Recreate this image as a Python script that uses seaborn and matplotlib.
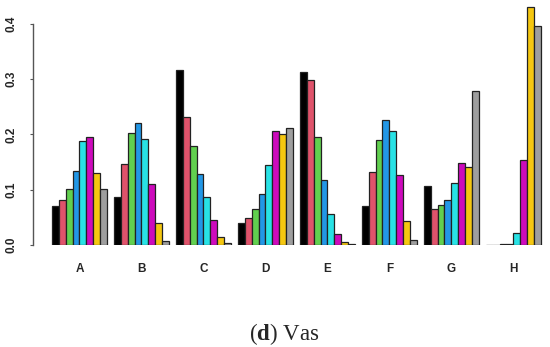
import matplotlib
matplotlib.use("Agg")
import matplotlib.pyplot as plt
import seaborn as sns
import pandas as pd

groups = ["A", "B", "C", "D", "E", "F", "G", "H"]
series_names = ["s1", "s2", "s3", "s4", "s5", "s6", "s7", "s8"]
s1 = [0.071, 0.087, 0.316, 0.039, 0.314, 0.071, 0.107, 0.000]
s2 = [0.081, 0.146, 0.232, 0.049, 0.299, 0.132, 0.065, 0.000]
s3 = [0.102, 0.202, 0.180, 0.065, 0.195, 0.190, 0.072, 0.001]
s4 = [0.134, 0.221, 0.129, 0.092, 0.118, 0.227, 0.081, 0.002]
s5 = [0.188, 0.192, 0.086, 0.145, 0.056, 0.206, 0.112, 0.022]
s6 = [0.196, 0.111, 0.045, 0.206, 0.019, 0.127, 0.148, 0.153]
s7 = [0.131, 0.039, 0.015, 0.200, 0.005, 0.044, 0.142, 0.431]
s8 = [0.101, 0.007, 0.003, 0.212, 0.001, 0.009, 0.279, 0.397]
colors = ["#000000", "#DF536B", "#61D04F", "#2297E6", "#28E2E5", "#CD0BBC", "#F5C710", "#9E9E9E"]
yticks = [0.0, 0.1, 0.2, 0.3, 0.4]

all_series = [s1, s2, s3, s4, s5, s6, s7, s8]
rows = []
for name, vals in zip(series_names, all_series):
    for g, v in zip(groups, vals):
        rows.append({"group": g, "series": name, "value": v})
df = pd.DataFrame(rows)

sns.set_style("white")
plt.rcParams["mathtext.fontset"] = "custom"
plt.rcParams["mathtext.rm"] = "Liberation Serif"
plt.rcParams["mathtext.bf"] = "Liberation Serif:bold"

fig = plt.figure(figsize=(5.5, 3.47), dpi=100)
ax = fig.add_axes([0.06, 0.294, 0.936, 0.6926])

sns.barplot(data=df, x="group", y="value", hue="series", order=groups,
            hue_order=series_names, palette=colors, width=8/9, gap=0,
            edgecolor="#222222", linewidth=0.9, saturation=1, legend=False, ax=ax)

ax.set_xlim(-0.75, 7.556)
ax.set_ylim(0, 0.435)
ax.set_xlabel("")
ax.set_ylabel("")
for s in ["top", "right", "bottom"]:
    ax.spines[s].set_visible(False)
ax.spines["left"].set_bounds(0, 0.4)
ax.spines["left"].set_color("#555555")
ax.spines["left"].set_linewidth(1.0)
ax.set_yticks(yticks)
ax.set_yticklabels([f"{t:.1f}" for t in yticks], rotation=90, va="center",
                   fontsize=8.5, fontweight="bold", family="Liberation Sans")
ax.tick_params(axis="y", left=True, length=2.5, width=0.8, color="#555555", pad=9)
ax.tick_params(axis="x", bottom=False, length=0, pad=13)
for lbl in ax.get_xticklabels():
    lbl.set_fontweight("bold")
    lbl.set_fontsize(8.5)
    lbl.set_family("Liberation Sans")

fig.text(0.517, 0.02, r"($\mathbf{d}$) Vas", ha="center", va="baseline",
         fontsize=16.5, family="Liberation Serif")

fig.savefig("out.png", dpi=100)
